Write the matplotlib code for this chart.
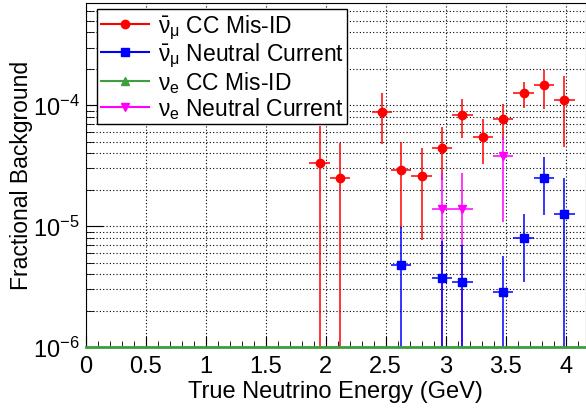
import matplotlib
matplotlib.use('Agg')
import matplotlib.pyplot as plt
from matplotlib.lines import Line2D
from matplotlib.ticker import LogLocator, MultipleLocator, NullFormatter
import numpy as np

plt.rcParams['font.family'] = ['Liberation Sans', 'DejaVu Sans']
plt.rcParams['mathtext.fontset'] = 'custom'
plt.rcParams['mathtext.rm'] = 'Liberation Sans'
plt.rcParams['mathtext.it'] = 'Liberation Sans'
plt.rcParams['mathtext.bf'] = 'Liberation Sans:bold'

YMIN, YMAX = 1e-6, 7e-4
XERR = 0.085

# numubar CC mis-ID (valeur, borne haute, borne basse)
numu_cc_x = [1.95, 2.12, 2.47, 2.63, 2.80, 2.97, 3.14, 3.31, 3.48, 3.65, 3.82, 3.99]
numu_cc_y = [3.36e-5, 2.49e-5, 8.8e-5, 2.92e-5, 2.62e-5, 4.47e-5, 8.27e-5, 5.5e-5, 7.7e-5, 1.27e-4, 1.46e-4, 1.10e-4]
numu_cc_hi = [6.7e-5, 4.92e-5, 1.27e-4, 4.98e-5, 4.47e-5, 6.6e-5, 1.12e-4, 7.66e-5, 1.02e-4, 1.57e-4, 1.96e-4, 1.73e-4]
numu_cc_lo = [1e-7, 1e-7, 4.8e-5, 9.75e-6, 7.66e-6, 2.4e-5, 5.34e-5, 3.25e-5, 5.2e-5, 9.57e-5, 9.4e-5, 4.56e-5]

# numubar NC
numu_nc_x = [2.63, 2.97, 3.14, 3.48, 3.65, 3.82, 3.99]
numu_nc_y = [4.82e-6, 3.7e-6, 3.44e-6, 2.86e-6, 8.06e-6, 2.49e-5, 1.26e-5]
numu_nc_hi = [9.8e-6, 7.5e-6, 7.0e-6, 5.68e-6, 1.27e-5, 3.7e-5, 2.52e-5]
numu_nc_lo = [1e-7, 1e-7, 1e-7, 1e-7, 3.43e-6, 1.24e-5, 1e-7]

# nue CC mis-ID : tout a zero
nue_cc_x = [0.0, 4.17]
nue_cc_y = [0.0, 0.0]

# nue NC
nue_nc_x = [2.97, 3.14, 3.48]
nue_nc_y = [1.38e-5, 1.38e-5, 3.81e-5]
nue_nc_hi = [2.74e-5, 2.74e-5, 5.5e-5]
nue_nc_lo = [1e-7, 1e-7, 1.09e-5]

x_ticks = [0, 0.5, 1, 1.5, 2, 2.5, 3, 3.5, 4]
x_ticklabels = ['0', '0.5', '1', '1.5', '2', '2.5', '3', '3.5', '4']

RED = '#ff0000'
BLUE = '#0000ff'
GREEN = '#3f9f3f'
MAGENTA = '#ff00ff'
FS = 17

fig = plt.figure(figsize=(5.86, 4.10), dpi=100)
ax = fig.add_axes([0.146, 0.151, 0.854, 0.839])


def draw(xs, ys, hi, lo, color, marker, ms):
    xs = np.array(xs)
    ys = np.array(ys)
    yerr = [ys - np.array(lo), np.array(hi) - ys]
    ax.errorbar(xs, ys, xerr=XERR, yerr=yerr, fmt=marker, color=color,
                ms=ms, elinewidth=1.1, capsize=0, zorder=3)


draw(numu_cc_x, numu_cc_y, numu_cc_hi, numu_cc_lo, RED, 'o', 6)
draw(nue_nc_x, nue_nc_y, nue_nc_hi, nue_nc_lo, MAGENTA, 'v', 6)
draw(numu_nc_x, numu_nc_y, numu_nc_hi, numu_nc_lo, BLUE, 's', 5.5)
ax.plot(nue_cc_x, np.clip(nue_cc_y, YMIN, None), color=GREEN, lw=2,
        zorder=4, clip_on=False)

ax.set_yscale('log')
ax.set_xlim(0, 4.17)
ax.set_ylim(YMIN, YMAX)

ax.set_xticks(x_ticks)
ax.set_xticklabels(x_ticklabels)
ax.xaxis.set_minor_locator(MultipleLocator(0.1))
ax.yaxis.set_major_locator(LogLocator(base=10))
ax.yaxis.set_minor_locator(LogLocator(base=10, subs=np.arange(2, 10)))
ax.yaxis.set_minor_formatter(NullFormatter())

ax.tick_params(which='both', direction='in', labelsize=FS, top=False, right=False)
ax.tick_params(axis='x', which='major', length=8, pad=6)
ax.tick_params(axis='x', which='minor', length=4)
ax.tick_params(axis='y', which='major', length=12, pad=4)
ax.tick_params(axis='y', which='minor', length=6)

ax.grid(True, which='major', axis='x', color='black', linestyle=(0, (1, 2)), lw=0.8)
ax.grid(True, which='both', axis='y', color='black', linestyle=(0, (1, 2)), lw=0.8)
ax.set_axisbelow(True)

ax.set_xlabel('True Neutrino Energy (GeV)', fontsize=FS, labelpad=2)
ax.set_ylabel('Fractional Background', fontsize=16.5)
ax.yaxis.set_label_coords(-0.105, 0.503)

handles = [
    Line2D([], [], color=RED, marker='o', ms=6),
    Line2D([], [], color=BLUE, marker='s', ms=5.5),
    Line2D([], [], color=GREEN, marker='^', ms=6),
    Line2D([], [], color=MAGENTA, marker='v', ms=6),
]
labels = [
    r'$\bar{\nu}_{\mu}$ CC Mis-ID',
    r'$\bar{\nu}_{\mu}$ Neutral Current',
    r'$\nu_{e}$ CC Mis-ID',
    r'$\nu_{e}$ Neutral Current',
]
leg = ax.legend(handles, labels, loc='upper left', bbox_to_anchor=(0.023, 0.983),
                fontsize=16.5, frameon=True, fancybox=False, framealpha=1,
                edgecolor='black', handlelength=2.1, handletextpad=0.4,
                borderpad=0.15, labelspacing=0.0, borderaxespad=0)
leg.get_frame().set_linewidth(1.0)

fig.savefig('out.png', dpi=100)
